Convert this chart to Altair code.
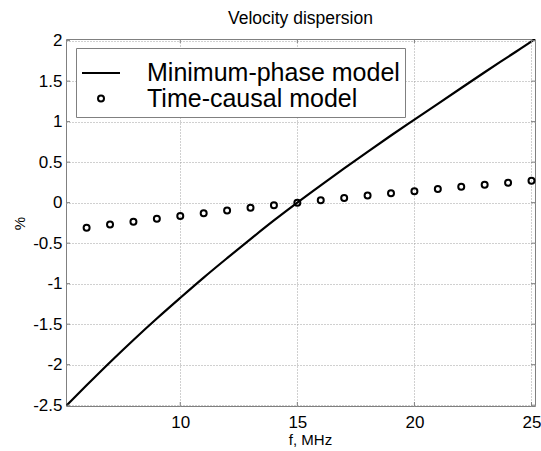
import altair as alt
import pandas as pd

# Minimum-phase model curve
line_f = [5.12, 6, 7, 8, 9, 10, 11, 12, 13, 14, 15, 16, 17, 18, 19, 20, 21, 22, 23, 24, 25, 25.15]
line_v = [-2.51, -2.255, -1.97, -1.695, -1.43, -1.175, -0.925, -0.685, -0.45, -0.22, 0.00,
          0.213, 0.422, 0.627, 0.829, 1.025, 1.22, 1.415, 1.61, 1.80, 1.99, 2.02]

# Time-causal model points
tc_f = [6, 7, 8, 9, 10, 11, 12, 13, 14, 15, 16, 17, 18, 19, 20, 21, 22, 23, 24, 25]
tc_v = [-0.31, -0.27, -0.235, -0.20, -0.165, -0.13, -0.097, -0.064, -0.032, 0.0,
        0.03, 0.058, 0.087, 0.115, 0.142, 0.168, 0.195, 0.22, 0.245, 0.27]

models = ["Minimum-phase model", "Time-causal model"]
x_ticks = [10, 15, 20, 25]
y_ticks = [-2.5, -2, -1.5, -1, -0.5, 0, 0.5, 1, 1.5, 2]

W, H = 469, 367
FONT = "Liberation Sans"

line_df = pd.DataFrame({"f": line_f, "v": line_v})
tc_df = pd.DataFrame({"f": tc_f, "v": tc_v, "model": models[1]})
xt_df = pd.DataFrame({"f": x_ticks})
yt_df = pd.DataFrame({"v": y_ticks})

xs = alt.Scale(domain=[5.12, 25.15], nice=False, zero=False)
ys = alt.Scale(domain=[-2.51, 2.02], nice=False, zero=False)

x_axis = alt.Axis(values=x_ticks, title="f, MHz", grid=True, labelExpr="'' + datum.value",
                  labelPadding=8, titlePadding=2, titleX=244)
y_axis = alt.Axis(values=y_ticks, title="%", grid=True, labelExpr="'' + datum.value",
                  labelPadding=4, titleX=-47, titleY=184, titleBaseline="middle")

X = alt.X("f:Q", scale=xs, axis=x_axis)
Y = alt.Y("v:Q", scale=ys, axis=y_axis)

line = alt.Chart(line_df).mark_line(color="black", strokeWidth=2.2, clip=True,
                                    interpolate="monotone").encode(x=X, y=Y)

leg = alt.Legend(orient="none", legendX=10, legendY=9, title=None, padding=5,
                 strokeColor="#808080", fillColor="white", labelFontSize=25, labelFont=FONT,
                 labelColor="black", labelLimit=600, labelOffset=26, rowPadding=-13,
                 symbolStrokeWidth=2, symbolStrokeColor="black")

pts = alt.Chart(tc_df).mark_point(filled=False, color="black", strokeWidth=2, opacity=1).encode(
    x=X, y=Y,
    shape=alt.Shape("model:N", scale=alt.Scale(domain=models, range=["stroke", "circle"]), legend=leg),
    size=alt.Size("model:N", scale=alt.Scale(type="ordinal", domain=models, range=[1444, 36]), legend=leg),
)

tick_b = alt.Chart(xt_df).mark_rule(color="#808080").encode(x=X, y=alt.value(H), y2=alt.value(H - 4))
tick_t = alt.Chart(xt_df).mark_rule(color="#808080").encode(x=X, y=alt.value(0), y2=alt.value(4))
tick_l = alt.Chart(yt_df).mark_rule(color="#808080").encode(y=Y, x=alt.value(0), x2=alt.value(4))
tick_r = alt.Chart(yt_df).mark_rule(color="#808080").encode(y=Y, x=alt.value(W - 4), x2=alt.value(W))

chart = alt.layer(line, tick_b, tick_t, tick_l, tick_r, pts).properties(
    width=W, height=H,
    title=alt.TitleParams("Velocity dispersion", fontSize=17.5, font=FONT, fontWeight="normal",
                          color="black", offset=4, anchor="middle"),
    autosize="none",
    background="white",
    padding={"left": 66, "top": 39, "right": 6, "bottom": 45},
).configure_view(stroke="#808080", strokeWidth=1).configure_axis(
    domain=False, ticks=False, gridColor="#a0a0a0", gridDash=[1, 2], gridWidth=1, gridOpacity=1,
    labelFont=FONT, labelFontSize=17, labelColor="black",
    titleFont=FONT, titleFontSize=15, titleFontWeight="normal", titleColor="black",
)

chart.save("out.html", embed_options={"renderer": "svg", "actions": False})
